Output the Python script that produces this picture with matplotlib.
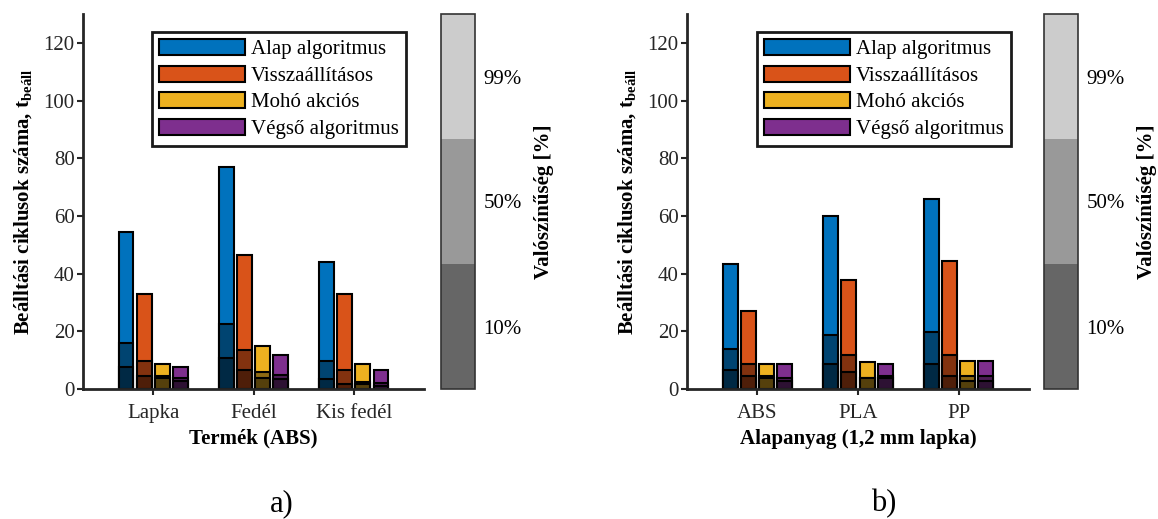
import numpy as np
import matplotlib
matplotlib.use('Agg')
import matplotlib.pyplot as plt
from matplotlib.colors import ListedColormap, BoundaryNorm, to_rgb
import matplotlib.colorbar as mcolorbar

plt.rcParams['font.family'] = ['Liberation Serif', 'DejaVu Serif']
plt.rcParams['mathtext.fontset'] = 'custom'
plt.rcParams['mathtext.rm'] = 'Liberation Serif'
plt.rcParams['mathtext.bf'] = 'Liberation Serif:bold'

# data
series = ['Alap algoritmus', 'Visszaállításos', 'Mohó akciós', 'Végső algoritmus']
colors = ['#0072BD', '#D95319', '#EDB120', '#7E2F8E']

cats_a = ['Lapka', 'Fedél', 'Kis fedél']
p99_a = [[54.6, 77.1, 43.9], [32.8, 46.4, 32.8], [8.7, 14.8, 8.7], [7.6, 11.9, 6.6]]
p50_a = [[15.9, 22.7, 9.7], [9.8, 13.6, 6.7], [4.6, 5.9, 2.5], [3.9, 4.9, 2.0]]
p10_a = [[7.8, 10.7, 3.6], [4.6, 6.6, 1.8], [3.7, 3.7, 1.7], [2.9, 3.5, 1.0]]

cats_b = ['ABS', 'PLA', 'PP']
p99_b = [[43.4, 59.9, 66.0], [27.2, 37.9, 44.5], [8.8, 9.3, 9.8], [8.8, 8.7, 9.8]]
p50_b = [[13.8, 18.8, 19.9], [8.8, 11.8, 11.8], [4.6, 3.9, 4.6], [3.7, 4.6, 4.6]]
p10_b = [[6.6, 8.8, 8.8], [4.6, 5.9, 4.6], [3.7, 3.7, 2.8], [2.9, 3.7, 2.8]]

prob_labels = ['10%', '50%', '99%']
band_grays = ['#666666', '#999999', '#cccccc']

FS = 15
W, H = 1158, 519


def shade(c, f):
    r, g, b = to_rgb(c)
    return (r * f, g * f, b * f)


def panel(ax, cax, cats, p99, p50, p10, xlabel, tag):
    x = np.arange(1, len(cats) + 1)
    pitch, width = 0.181, 0.148
    for i, c in enumerate(colors):
        xs = x + (i - 1.5) * pitch
        ax.bar(xs, p99[i], width, color=c, edgecolor='black', linewidth=1.5, label=series[i])
        ax.bar(xs, p50[i], width, color=shade(c, 0.6), edgecolor='black', linewidth=1.5)
        ax.bar(xs, p10[i], width, color=shade(c, 0.36), edgecolor='black', linewidth=1.5)
    ax.set_xlim(0.3, 3.7)
    ax.set_ylim(0, 130)
    ax.set_yticks(range(0, 121, 20))
    ax.set_xticks(x)
    ax.set_xticklabels(cats)
    for s in ['top', 'right']:
        ax.spines[s].set_visible(False)
    for s in ['left', 'bottom']:
        ax.spines[s].set_linewidth(2)
        ax.spines[s].set_color('#262626')
    ax.tick_params(direction='out', length=4, width=1.5, colors='#262626', labelsize=FS)
    ax.tick_params(axis='x', pad=7)
    ax.tick_params(axis='y', pad=2)
    ax.set_xlabel(xlabel, fontsize=FS, fontweight='bold', labelpad=4)
    ax.set_ylabel(r'Beálltási ciklusok száma, t$_{\mathbf{beáll}}$', fontsize=FS,
                  fontweight='bold', labelpad=6)
    leg = ax.legend(loc='upper right', fontsize=15, handlelength=4.1, handleheight=0.82,
                    labelspacing=0.3, borderaxespad=0.85, handletextpad=0.3,
                    fancybox=False, framealpha=1, borderpad=0.35)
    leg.get_frame().set_edgecolor('#1a1a1a')
    leg.get_frame().set_linewidth(2)

    cmap = ListedColormap(band_grays)
    norm = BoundaryNorm([0, 1, 2, 3], cmap.N)
    cb = mcolorbar.ColorbarBase(cax, cmap=cmap, norm=norm, ticks=[0.5, 1.5, 2.5])
    cb.set_ticklabels(prob_labels)
    cax.minorticks_off()
    cax.tick_params(which='both', length=0, labelsize=FS, pad=6)
    cb.outline.set_edgecolor('#333333')
    cb.outline.set_linewidth(1.2)
    cb.set_label('Valószínűség [%]', fontsize=FS, fontweight='bold', labelpad=9)

    fig.text(tag[1], 1 / H, tag[0], fontsize=22, ha='center', va='bottom')


fig = plt.figure(figsize=(W / 100, H / 100), dpi=100)
bottom = (H - 389) / H
height = (389 - 14) / H
ax1 = fig.add_axes([83 / W, bottom, 341 / W, height])
cax1 = fig.add_axes([441 / W, bottom, 34 / W, height])
ax2 = fig.add_axes([687 / W, bottom, 342 / W, height])
cax2 = fig.add_axes([1044 / W, bottom, 34 / W, height])

panel(ax1, cax1, cats_a, p99_a, p50_a, p10_a, 'Termék (ABS)', ('a)', 282 / W))
panel(ax2, cax2, cats_b, p99_b, p50_b, p10_b, 'Alapanyag (1,2 mm lapka)', ('b)', 884 / W))

fig.savefig('out.png', dpi=100)
